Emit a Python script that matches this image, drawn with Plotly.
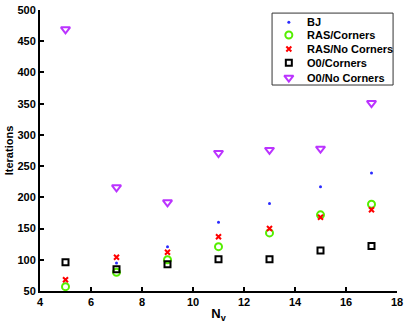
import plotly.graph_objects as go

nv = [5, 7, 9, 11, 13, 15, 17]

bj = [68, 95, 121, 160, 190, 217, 239]
ras_corners = [57, 80, 100, 121, 143, 172, 189]
ras_no_corners = [68, 104, 112, 137, 150, 168, 180]
o0_corners = [96, 85, 93, 101, 101, 115, 122]
o0_no_corners = [469, 216, 192, 271, 276, 278, 351]

FONT = "Liberation Sans, Arial, sans-serif"

series = [
    ("BJ", bj, dict(symbol="circle", size=3, color="#2a2aff")),
    ("RAS/Corners", ras_corners,
     dict(symbol="circle-open", size=7, color="#55ee00", line=dict(width=2))),
    ("RAS/No Corners", ras_no_corners,
     dict(symbol="x-thin-open", size=5, color="#ff0000", line=dict(width=2, color="#ff0000"))),
    ("O0/Corners", o0_corners,
     dict(symbol="square-open", size=6, color="#000000", line=dict(width=2))),
    ("O0/No Corners", o0_no_corners,
     dict(symbol="triangle-down-open", size=8, color="#bb33ff", line=dict(width=2))),
]

fig = go.Figure()
for name, vals, mk in series:
    fig.add_trace(go.Scatter(x=nv, y=vals, mode="markers", name=name, marker=mk,
                             showlegend=False))

# matlab-style legend box: compact rows, drawn on an overlay axis in 0..1 units
leg_x0, leg_x1, leg_y0, leg_y1 = 0.650, 0.989, 0.733, 0.989
leg_rows = [0.956, 0.911, 0.861, 0.812, 0.759]
fig.add_shape(type="rect", xref="paper", yref="paper",
              x0=leg_x0, x1=leg_x1, y0=leg_y0, y1=leg_y1,
              line=dict(color="#333333", width=1), fillcolor="white", layer="below")
for (name, _, mk), ry in zip(series, leg_rows):
    fig.add_trace(go.Scatter(x=[0.697], y=[ry], mode="markers", marker=mk,
                             xaxis="x2", yaxis="y2", showlegend=False, hoverinfo="skip"))
    fig.add_annotation(x=0.742, y=ry, xref="paper", yref="paper", text=f"<b>{name}</b>",
                       showarrow=False, xanchor="left", yanchor="middle",
                       font=dict(family=FONT, size=11, color="black"))

axis_common = dict(
    showline=True, linecolor="black", linewidth=2,
    ticks="inside", ticklen=4, tickwidth=2, tickcolor="black",
    showgrid=False, zeroline=False, mirror=False, automargin=False,
    tickfont=dict(family=FONT, size=11, color="black", weight="bold"),
)

fig.update_layout(
    width=407, height=324,
    paper_bgcolor="white", plot_bgcolor="white",
    margin=dict(l=40, r=10, t=10, b=33),
    font=dict(family=FONT, color="black"),
    showlegend=False,
    xaxis=dict(range=[4, 18], dtick=2,
               title=dict(text="<b>N<sub>v</sub></b>", font=dict(family=FONT, size=13), standoff=2),
               **axis_common),
    yaxis=dict(range=[50, 500], dtick=50,
               title=dict(text="<b>Iterations</b>", font=dict(family=FONT, size=11), standoff=2),
               **axis_common),
    xaxis2=dict(range=[0, 1], overlaying="x", visible=False, fixedrange=True),
    yaxis2=dict(range=[0, 1], overlaying="y", visible=False, fixedrange=True),
)

fig.write_html("out.html", config={"displayModeBar": False},
               post_script="document.body.style.margin='0';")
